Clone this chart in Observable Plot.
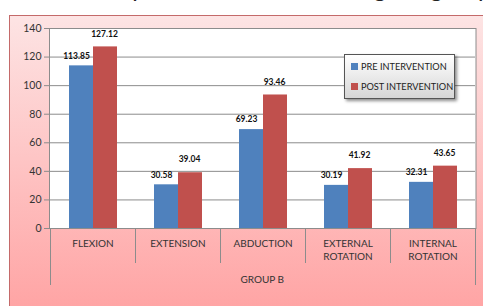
<!DOCTYPE html>
<html><head><meta charset="utf-8">
<script src="https://cdn.jsdelivr.net/npm/d3@7"></script>
<script src="https://cdn.jsdelivr.net/npm/@observablehq/plot@0.6"></script>
<style>
html,body{margin:0;padding:0;background:#fff;overflow:hidden;}
#wrap{position:relative;width:483px;height:306px;overflow:hidden;font-family:Lato,sans-serif;}
#title{position:absolute;left:83px;top:-26px;font-size:24px;line-height:28px;white-space:nowrap;color:#222;}
#frame{position:absolute;left:9px;top:15px;width:490px;height:300px;border:1px solid #c46a6a;box-sizing:border-box;background:linear-gradient(to bottom,#fde4e4,#ffa3a3);}
#chart{position:absolute;left:0;top:0;}
#legend{position:absolute;left:344px;top:54px;width:111px;height:45px;box-sizing:border-box;border:1px solid #555;background:linear-gradient(to bottom,#ffffff,#d6d6d6);box-shadow:2px 2px 3px rgba(0,0,0,0.45);font-size:9.2px;color:#222;}
#legend .item{position:absolute;left:6px;display:flex;align-items:center;height:12px;white-space:nowrap;}
#legend .sw{width:7px;height:7px;margin-right:3px;}
</style>
</head><body>
<div id="wrap">
  <div id="title">Comparison of shoulder range in group B pre and post intervention</div>
  <div id="frame"></div>
  <div id="chart"></div>
  <div id="legend"></div>
</div>
<script>
const categories = ["FLEXION", "EXTENSION", "ABDUCTION", "EXTERNAL ROTATION", "INTERNAL ROTATION"];
const series = ["PRE INTERVENTION", "POST INTERVENTION"];
const preValues = [113.85, 30.58, 69.23, 30.19, 32.31];
const postValues = [127.12, 39.04, 93.46, 41.92, 43.65];
const yTicks = [0, 20, 40, 60, 80, 100, 120, 140];
const groupLabel = "GROUP B";
const seriesColors = ["#4f81bd", "#c0504d"];

const data = categories.flatMap((c, i) => [
  {cat: c, series: series[0], value: preValues[i]},
  {cat: c, series: series[1], value: postValues[i]}
]);

const gridColor = "#8c8c8c";
const chart = Plot.plot({
  width: 483, height: 306,
  marginLeft: 49, marginRight: 7.5, marginTop: 28, marginBottom: 78,
  style: {background: "transparent", fontFamily: "Lato, sans-serif", overflow: "visible"},
  fx: {domain: categories, padding: 0},
  x: {domain: series, paddingInner: 0, paddingOuter: 0.76, axis: null},
  y: {domain: [0, 140]},
  color: {domain: series, range: seriesColors},
  marks: [
    Plot.gridY(yTicks, {stroke: gridColor, strokeOpacity: 1}),
    Plot.axisY(yTicks, {tickSize: 6, tickPadding: 3, fontSize: 10.5, stroke: gridColor, fill: "#333", label: null}),
    Plot.barY(data, {fx: "cat", x: "series", y: "value", fill: "series"}),
    Plot.text(data.filter(d => d.series === series[0]), {fx: "cat", x: "series", y: "value", text: d => d.value.toFixed(2), dy: -10, dx: -5, fontWeight: "bold", fontSize: 8.5, fill: "#111"}),
    Plot.text(data.filter(d => d.series === series[1]), {fx: "cat", x: "series", y: "value", text: d => d.value.toFixed(2), dy: -13, dx: -1, fontWeight: "bold", fontSize: 8.5, fill: "#111"}),
    Plot.axisFx({anchor: "bottom", tickSize: 0, tickPadding: 9, lineAnchor: "top", lineHeight: 1.3, fontSize: 10, fill: "#333", label: null, tickFormat: d => d.replace(" ", "\n")})
  ]
});

const svg = d3.select(chart);
const fx = chart.scale("fx"), y = chart.scale("y");
const xs = d3.extent(fx.range), ys = y.range; // [bottom, top]
svg.insert("rect", ":first-child")
  .attr("x", xs[0] + 0.5).attr("y", ys[1] + 0.5)
  .attr("width", xs[1] - xs[0]).attr("height", ys[0] - ys[1])
  .attr("fill", "#fff").attr("stroke", gridColor);
const bounds = categories.map(c => fx.apply(c)).concat([fx.apply(categories[categories.length - 1]) + fx.bandwidth]);
bounds.forEach((bx, i) => {
  const outer = i === 0 || i === bounds.length - 1;
  svg.append("line")
    .attr("x1", Math.round(bx) + 0.5).attr("x2", Math.round(bx) + 0.5)
    .attr("y1", ys[0]).attr("y2", ys[0] + (outer ? 57 : 35))
    .attr("stroke", gridColor);
});
svg.append("text")
  .attr("x", (xs[0] + xs[1]) / 2).attr("y", ys[0] + 52)
  .attr("text-anchor", "middle").attr("dominant-baseline", "middle")
  .attr("font-size", 10).attr("fill", "#333").text(groupLabel);

document.getElementById("chart").appendChild(chart);

const color = chart.scale("color");
const legend = d3.select("#legend");
series.forEach((s, i) => {
  const item = legend.append("div").attr("class", "item").style("top", (5 + i * 20) + "px");
  item.append("div").attr("class", "sw").style("background", color.apply(s));
  item.append("span").text(s);
});
</script>
</body></html>
